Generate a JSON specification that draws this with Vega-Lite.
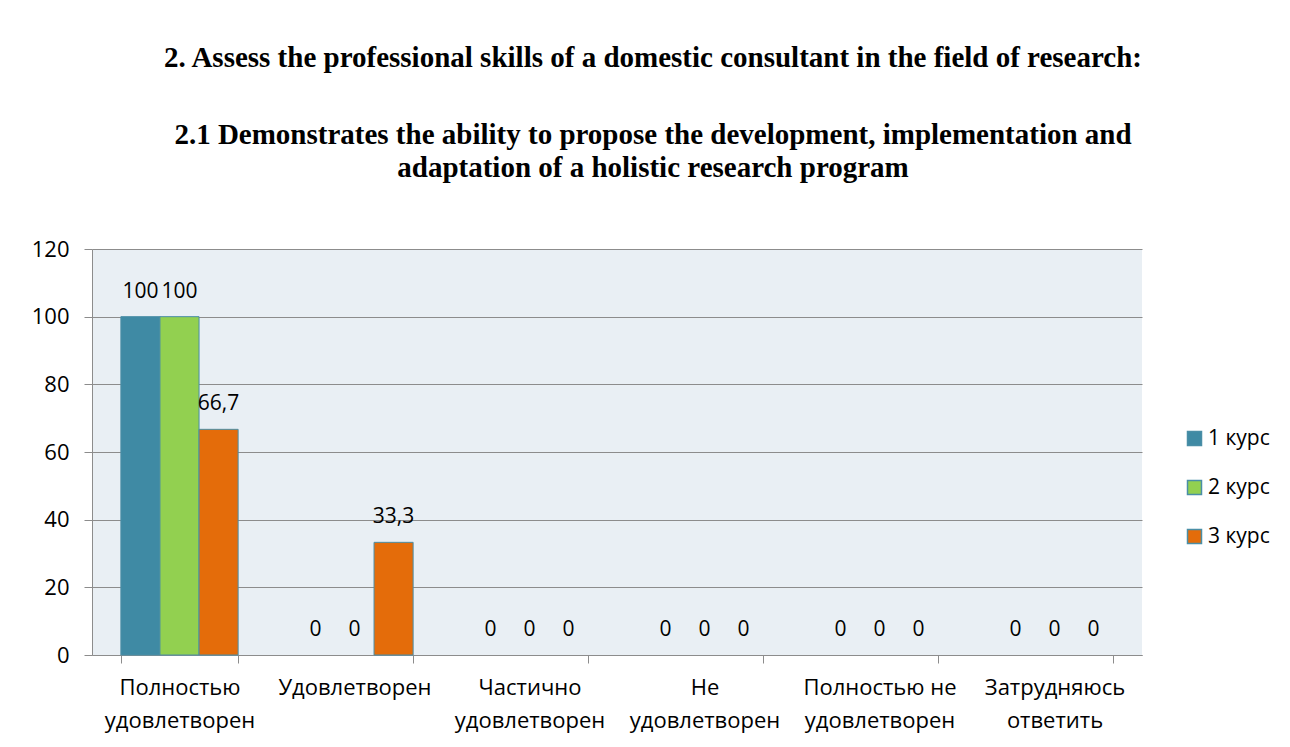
{
  "$schema": "https://vega.github.io/schema/vega-lite/v6.json",
  "width": 1050,
  "height": 406,
  "autosize": "none",
  "padding": {"left": 92, "top": 249, "right": 148, "bottom": 92},
  "background": "white",
  "config": {
    "locale": {"number": {"decimal": ",", "thousands": " ", "grouping": [3], "currency": ["", ""]}},
    "view": {"fill": "#E9EFF4", "stroke": null},
    "font": "Open Sans"
  },
  "title": {
    "text": "2. Assess the professional skills of a domestic consultant in the field of research:",
    "subtitle": ["2.1 Demonstrates the ability to propose the development, implementation and", "adaptation of a holistic research program"],
    "anchor": "middle",
    "frame": "group",
    "dx": 36,
    "offset": 55,
    "font": "Liberation Serif",
    "fontSize": 29,
    "fontWeight": "bold",
    "color": "black",
    "subtitleFont": "Liberation Serif",
    "subtitleFontSize": 29,
    "subtitleFontWeight": "bold",
    "subtitleColor": "black",
    "subtitleLineHeight": 33,
    "subtitlePadding": 48
  },
  "data": {
    "values": [
      {"category": "Полностью удовлетворен", "series": "1 курс", "value": 100},
      {"category": "Полностью удовлетворен", "series": "2 курс", "value": 100},
      {"category": "Полностью удовлетворен", "series": "3 курс", "value": 66.7},
      {"category": "Удовлетворен", "series": "1 курс", "value": 0},
      {"category": "Удовлетворен", "series": "2 курс", "value": 0},
      {"category": "Удовлетворен", "series": "3 курс", "value": 33.3},
      {"category": "Частично удовлетворен", "series": "1 курс", "value": 0},
      {"category": "Частично удовлетворен", "series": "2 курс", "value": 0},
      {"category": "Частично удовлетворен", "series": "3 курс", "value": 0},
      {"category": "Не удовлетворен", "series": "1 курс", "value": 0},
      {"category": "Не удовлетворен", "series": "2 курс", "value": 0},
      {"category": "Не удовлетворен", "series": "3 курс", "value": 0},
      {"category": "Полностью не удовлетворен", "series": "1 курс", "value": 0},
      {"category": "Полностью не удовлетворен", "series": "2 курс", "value": 0},
      {"category": "Полностью не удовлетворен", "series": "3 курс", "value": 0},
      {"category": "Затрудняюсь ответить", "series": "1 курс", "value": 0},
      {"category": "Затрудняюсь ответить", "series": "2 курс", "value": 0},
      {"category": "Затрудняюсь ответить", "series": "3 курс", "value": 0}
    ]
  },
  "encoding": {
    "x": {
      "field": "category",
      "type": "nominal",
      "sort": null,
      "scale": {"paddingInner": 0.33, "paddingOuter": 0.165},
      "axis": {
        "title": null,
        "grid": false,
        "tickBand": "extent",
        "domainColor": "#8C8C8C",
        "tickColor": "#8C8C8C",
        "tickSize": 8,
        "labelAngle": 0,
        "labelFontSize": 22,
        "labelColor": "black",
        "labelLineHeight": 33,
        "labelPadding": 14,
        "labelBaseline": "top",
        "labelExpr": "datum.label == 'Удовлетворен' ? [datum.label] : indexof(datum.label, ' удовлетворен') >= 0 ? [replace(datum.label, ' удовлетворен', ''), 'удовлетворен'] : split(datum.label, ' ')"
      }
    },
    "xOffset": {"field": "series", "type": "nominal", "sort": null},
    "y": {
      "field": "value",
      "type": "quantitative",
      "scale": {"domain": [0, 120]},
      "axis": {
        "title": null,
        "values": [0, 20, 40, 60, 80, 100, 120],
        "grid": true,
        "gridColor": "#8C8C8C",
        "domainColor": "#8C8C8C",
        "tickColor": "#8C8C8C",
        "tickSize": 8,
        "labelPadding": 15,
        "labelFontSize": 22,
        "labelColor": "black"
      }
    }
  },
  "layer": [
    {
      "transform": [{"filter": "datum.value > 0"}],
      "mark": {"type": "bar", "stroke": "#4A8EA6", "strokeWidth": 1},
      "encoding": {
        "color": {
          "field": "series",
          "type": "nominal",
          "sort": null,
          "scale": {"domain": ["1 курс", "2 курс", "3 курс"], "range": ["#3F8AA4", "#92D050", "#E46C0A"]},
          "legend": {
            "title": null,
            "orient": "none",
            "legendX": 1092,
            "legendY": 179,
            "symbolType": "square",
            "symbolSize": 196,
            "symbolStrokeColor": "#4A8EA6",
            "symbolStrokeWidth": 1.5,
            "labelFontSize": 21,
            "labelColor": "black",
            "rowPadding": 27,
            "labelOffset": 3
          }
        }
      }
    },
    {
      "mark": {"type": "text", "baseline": "alphabetic", "dy": -19, "fontSize": 21, "color": "black"},
      "encoding": {
        "text": {"field": "value", "type": "quantitative", "format": ".1~f"}
      }
    }
  ]
}
